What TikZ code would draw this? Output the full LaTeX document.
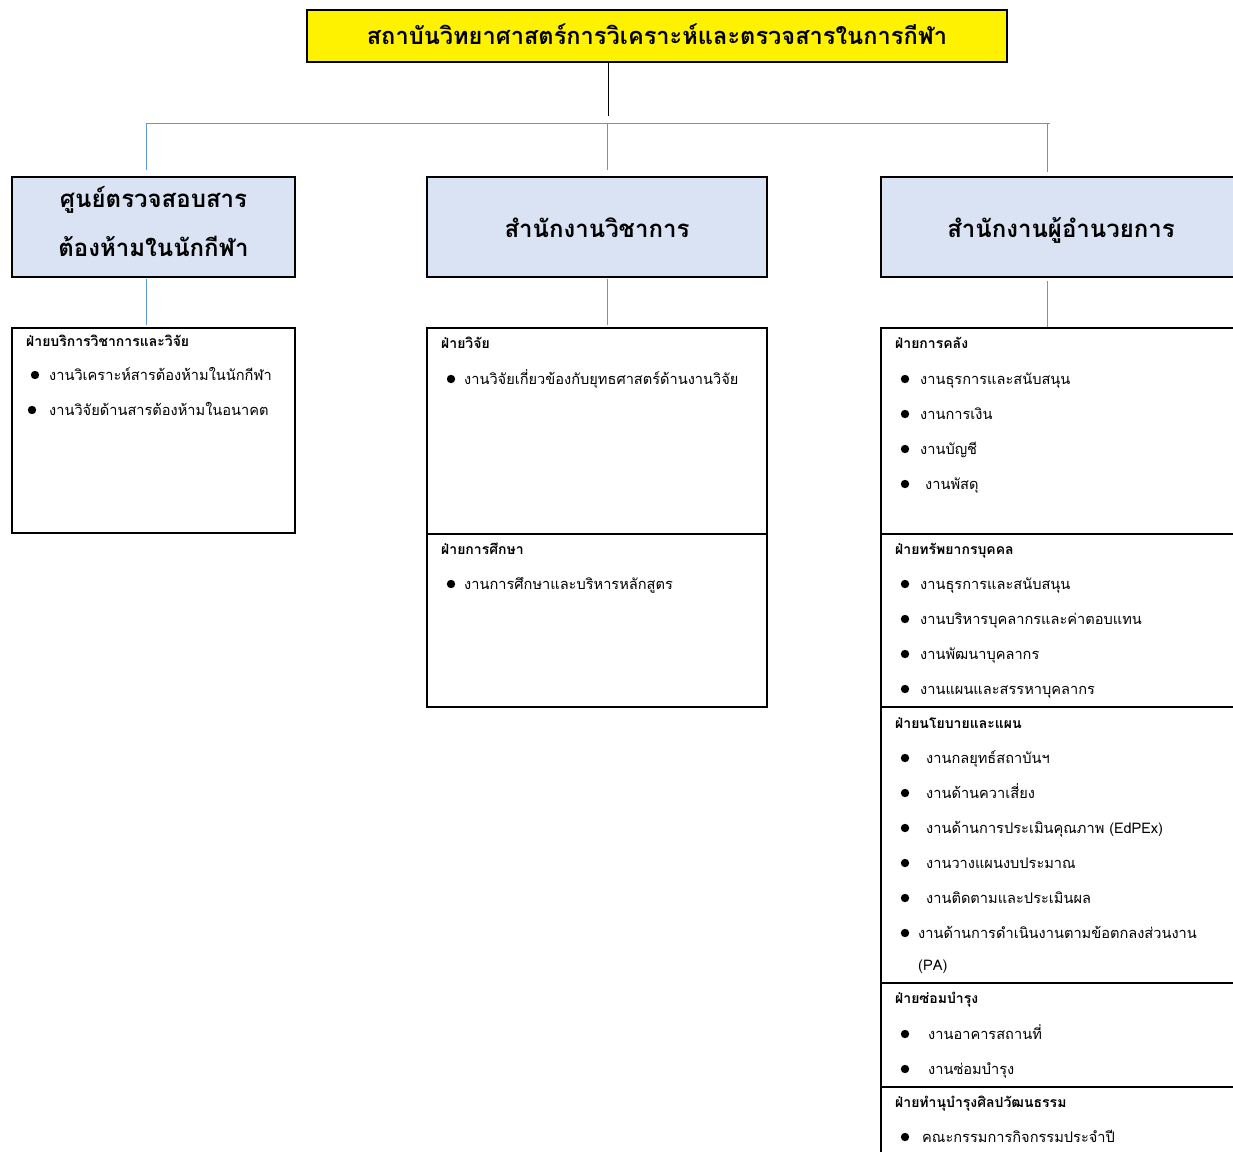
\documentclass[tikz,border=0pt]{standalone}
\usepackage{fontspec}
\newfontfamily\thaifont[Script=Thai]{Loma}
\definecolor{boxblue}{RGB}{218,227,243}
\definecolor{linkblue}{RGB}{91,155,213}

\begin{document}
\begin{tikzpicture}[x=1pt,y=-1pt,
   unit/.style={draw,line width=2pt,outer sep=0pt,inner sep=0pt,anchor=north west},
   office/.style={unit,fill=boxblue,align=center,
      font=\thaifont\bfseries\fontsize{24}{49}\selectfont},
   oneline/.style={text height=24pt,text depth=4pt},
   section/.style={unit,fill=white},
   head/.style={anchor=west,inner sep=0pt,text height=13pt,text depth=2pt,
      font=\thaifont\bfseries\fontsize{14}{16}\selectfont},
   task/.style={anchor=west,inner sep=0pt,text height=13pt,text depth=2pt,
      font=\thaifont\fontsize{14.6}{17}\selectfont},
   link/.style={draw=linkblue,line width=1pt}]
\useasboundingbox (0,0) rectangle (1233,1151);
\clip (0,0) rectangle (1233,1151);

% top
\node[unit,fill=yellow,minimum width=700pt,minimum height=52pt,
   font=\thaifont\bfseries\fontsize{23.6}{26}\selectfont] (inst) at (307,10)
   {\raisebox{3pt}{สถาบันวิทยาศาสตร์การวิเคราะห์และตรวจสารในการกีฬา}};
\coordinate (hub) at (608,116);
\coordinate (bar-w) at (146,123);
\coordinate (bar-m) at (607,123);
\coordinate (bar-r) at (1047,123);
\coordinate (bar-e) at (1050,123);
\draw[line width=1pt] (inst.south -| hub) -- (hub);
\draw[link] (bar-w) -- (bar-e);

% offices
\node[office,minimum width=283pt,minimum height=100pt,text depth=12pt] (centre) at (12,177)
   {ศูนย์ตรวจสอบสาร\\ต้องห้ามในนักกีฬา};
\node[office,oneline,minimum width=340pt,minimum height=100pt] (acad) at (427,177)
   {สำนักงานวิชาการ};
\node[office,oneline,minimum width=360pt,minimum height=100pt] (dir) at (881,177)
   {สำนักงานผู้อำนวยการ};
\draw[link,shorten >=7pt] (bar-w) -- (bar-w |- centre.north);
\draw[link,shorten >=7pt] (bar-m) -- (bar-m |- acad.north);
\draw[link,shorten >=5pt] (bar-r) -- (bar-r |- dir.north);

% sections
\node[section,minimum width=283pt,minimum height=205pt] (lab) at (12,328) {};
\node[section,minimum width=340pt,minimum height=206pt] (res) at (427,328) {};
\node[section,minimum width=340pt,minimum height=173pt] (edu) at (427,534) {};
\node[section,minimum width=360pt,minimum height=206pt] (fin) at (881,328) {};
\node[section,minimum width=360pt,minimum height=173pt] (hr) at (881,534) {};
\node[section,minimum width=360pt,minimum height=276pt] (plan) at (881,707) {};
\node[section,minimum width=360pt,minimum height=104pt] (fix) at (881,983) {};
\node[section,minimum width=360pt,minimum height=100pt] (art) at (881,1087) {};
\draw[link,shorten <=2pt,shorten >=3pt] (centre.south -| bar-w) -- (lab.north -| bar-w);
\draw[link,shorten <=2pt,shorten >=3pt] (acad.south -| bar-m) -- (res.north -| bar-m);
\draw[link,shorten <=4pt,shorten >=1pt] (dir.south -| bar-r) -- (fin.north -| bar-r);

% headings
\node[head] (lab-h) at (26,341) {ฝ่ายบริการวิชาการและวิจัย};
\node[head] (res-h) at (441,343) {ฝ่ายวิจัย};
\node[head] (edu-h) at (441,549) {ฝ่ายการศึกษา};
\node[head] (fin-h) at (895,343) {ฝ่ายการคลัง};
\node[head] (hr-h) at (895,549) {ฝ่ายทรัพยากรบุคคล};
\node[head] (plan-h) at (895,723) {ฝ่ายนโยบายและแผน};
\node[head] (fix-h) at (895,998) {ฝ่ายซ่อมบำรุง};
\node[head] (art-h) at (895,1102) {ฝ่ายทำนุบำรุงศิลปวัฒนธรรม};

% tasks
\foreach \b/\y/\t [count=\i] in {35/375/งานวิเคราะห์สารต้องห้ามในนักกีฬา,
      32/410/งานวิจัยด้านสารต้องห้ามในอนาคต} {
   \node[task] (lab-\i) at (49,\y) {\t};
   \fill (\b,\y) circle (4.2pt);
}
\node[task] (res-1) at (464,379) {งานวิจัยเกี่ยวข้องกับยุทธศาสตร์ด้านงานวิจัย};
\fill (451,379) circle (4.2pt);
\node[task] (edu-1) at (464,584) {งานการศึกษาและบริหารหลักสูตร};
\fill (451,584) circle (4.2pt);
\foreach \x/\t [count=\i] in {920/งานธุรการและสนับสนุน, 920/งานการเงิน,
      920/งานบัญชี, 925/งานพัสดุ} {
   \node[task] (fin-\i) at (\x,{344+35*\i}) {\t};
   \fill (905,{344+35*\i}) circle (4.2pt);
}
\foreach \t [count=\i] in {งานธุรการและสนับสนุน, งานบริหารบุคลากรและค่าตอบแทน,
      งานพัฒนาบุคลากร, งานแผนและสรรหาบุคลากร} {
   \node[task] (hr-\i) at (920,{549+35*\i}) {\t};
   \fill (905,{549+35*\i}) circle (4.2pt);
}
\foreach \x/\t [count=\i] in {926/งานกลยุทธ์สถาบันฯ, 926/งานด้านควาเสี่ยง,
      926/งานด้านการประเมินคุณภาพ (EdPEx), 926/งานวางแผนงบประมาณ,
      926/งานติดตามและประเมินผล, 918/งานด้านการดำเนินงานตามข้อตกลงส่วนงาน} {
   \node[task] (plan-\i) at (\x,{723+35*\i}) {\t};
   \fill (905,{723+35*\i}) circle (4.2pt);
}
\node[task] (plan-7) at (918,965) {(PA)};
\foreach \t [count=\i] in {งานอาคารสถานที่, งานซ่อมบำรุง} {
   \node[task] (fix-\i) at (928,{999+35*\i}) {\t};
   \fill (905,{999+35*\i}) circle (4.2pt);
}
\node[task] (art-1) at (922,1137) {คณะกรรมการกิจกรรมประจำปี};
\fill (905,1137) circle (4.2pt);
\end{tikzpicture}
\end{document}
